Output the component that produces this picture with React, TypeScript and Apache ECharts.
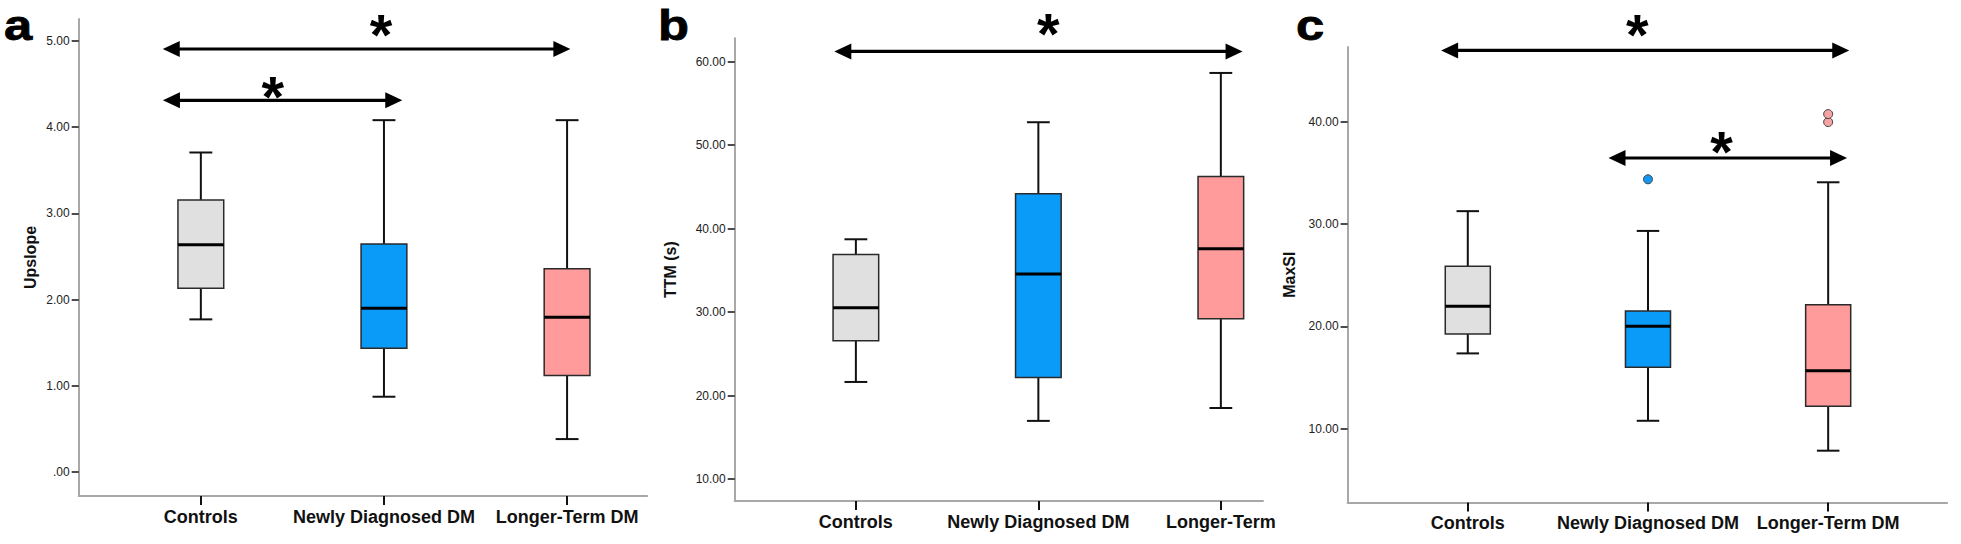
import React, { useEffect, useRef } from 'react';
import * as echarts from 'echarts';

// ---------- data ----------
const categoriesA = ['Controls', 'Newly Diagnosed DM', 'Longer-Term DM'];
const categoriesB = ['Controls', 'Newly Diagnosed DM', 'Longer-Term'];
const categoriesC = ['Controls', 'Newly Diagnosed DM', 'Longer-Term DM'];

// [min, Q1, median, Q3, max] per group
const upslopeBoxes = [
  [1.77, 2.13, 2.635, 3.155, 3.705],
  [0.873, 1.436, 1.9, 2.645, 4.08],
  [0.382, 1.118, 1.794, 2.357, 4.08],
];
const ttmBoxes = [
  [21.64, 26.58, 30.53, 36.89, 38.72],
  [16.98, 22.18, 34.56, 44.16, 52.73],
  [18.52, 29.2, 37.6, 46.24, 58.63],
];
const maxSIBoxes = [
  [17.36, 19.25, 21.97, 25.86, 31.25],
  [10.78, 16.0, 20.0, 21.49, 29.32],
  [7.86, 12.2, 15.66, 22.1, 34.07],
];
// [group index, value]
const maxSIOutliers = [
  [1, 34.36],
  [2, 39.95],
  [2, 40.73],
];

const upslopeTicks = [0, 1, 2, 3, 4, 5];
const ttmTicks = [10, 20, 30, 40, 50, 60];
const maxSITicks = [10, 20, 30, 40];

// significance arrows: [from (group units), to, y value]
const upslopeArrows = [
  [-0.208, 2.018, 4.905],
  [-0.207, 1.1, 4.31],
];
const ttmArrows = [[-0.118, 2.119, 61.21]];
const maxSIArrows = [
  [-0.148, 2.117, 46.95],
  [0.781, 2.105, 36.44],
];
// asterisk centres: [x (group units), y value]
const upslopeStars = [
  [0.984, 5.214],
  [0.393, 4.49],
];
const ttmStars = [[1.054, 64.79]];
const maxSIStars = [
  [0.94, 49.66],
  [1.408, 38.3],
];

const panelLetters = ['a', 'b', 'c'];

// ---------- style ----------
const FONT = '"Liberation Sans", Arial, sans-serif';
const fills = ['#e0e0e0', '#0a9af7', '#ff9b9b'];
const outlierFills = ['#e0e0e0', '#1597f0', '#f5a3a3'];
const AXIS_GRAY = '#a8a8a8';

type Panel = {
  cats: string[];
  boxes: number[][];
  ticks: number[];
  arrows: number[][];
  stars: number[][];
  name: string;
  nameGap: number;
  xMin: number;
  xMax: number;
  yMin: number;
  yMax: number;
  grid: { left: number; top: number; width: number; height: number };
};

const panels: Panel[] = [
  {
    cats: categoriesA,
    boxes: upslopeBoxes,
    ticks: upslopeTicks,
    arrows: upslopeArrows,
    stars: upslopeStars,
    name: 'Upslope',
    nameGap: 40,
    xMin: -0.667,
    xMax: 2.437,
    yMin: -0.278,
    yMax: 5.253,
    grid: { left: 78.7, top: 19, width: 568.4, height: 477 },
  },
  {
    cats: categoriesB,
    boxes: ttmBoxes,
    ticks: ttmTicks,
    arrows: ttmArrows,
    stars: ttmStars,
    name: 'TTM (s)',
    nameGap: 56,
    xMin: -0.664,
    xMax: 2.231,
    yMin: 7.39,
    yMax: 62.79,
    grid: { left: 734.7, top: 38.2, width: 528.3, height: 462.8 },
  },
  {
    cats: categoriesC,
    boxes: maxSIBoxes,
    ticks: maxSITicks,
    arrows: maxSIArrows,
    stars: maxSIStars,
    name: 'MaxSI',
    nameGap: 50,
    xMin: -0.667,
    xMax: 2.66,
    yMin: 2.81,
    yMax: 47.29,
    grid: { left: 1347.6, top: 46.9, width: 599.5, height: 455.5 },
  },
];

const fmtTick = (v: number) => (v === 0 ? '.00' : v.toFixed(2));

function boxRender(params: any, api: any) {
  const x = api.value(0);
  const mn = api.value(1);
  const q1 = api.value(2);
  const md = api.value(3);
  const q3 = api.value(4);
  const mx = api.value(5);
  const hw = 0.125;
  const cw = 0.0625;
  const tl = api.coord([x - hw, q3]);
  const br = api.coord([x + hw, q1]);
  const cx = api.coord([x, md])[0];
  const yMax = api.coord([x, mx])[1];
  const yMin = api.coord([x, mn])[1];
  const yMed = api.coord([x, md])[1];
  const capL = api.coord([x - cw, md])[0];
  const capR = api.coord([x + cw, md])[0];
  const whisker = { stroke: '#111', lineWidth: 2 };
  return {
    type: 'group',
    children: [
      { type: 'line', shape: { x1: cx, y1: yMax, x2: cx, y2: tl[1] }, style: whisker },
      { type: 'line', shape: { x1: cx, y1: br[1], x2: cx, y2: yMin }, style: whisker },
      { type: 'line', shape: { x1: capL, y1: yMax, x2: capR, y2: yMax }, style: whisker },
      { type: 'line', shape: { x1: capL, y1: yMin, x2: capR, y2: yMin }, style: whisker },
      {
        type: 'rect',
        shape: { x: tl[0], y: tl[1], width: br[0] - tl[0], height: br[1] - tl[1] },
        style: { fill: fills[Math.round(x)], stroke: '#2a2a2a', lineWidth: 1.5 },
      },
      {
        type: 'line',
        shape: { x1: tl[0], y1: yMed, x2: br[0], y2: yMed },
        style: { stroke: '#000', lineWidth: 3 },
      },
    ],
  };
}

function arrowRender(params: any, api: any) {
  const p1 = api.coord([api.value(0), api.value(2)]);
  const p2 = api.coord([api.value(1), api.value(2)]);
  const hl = 17;
  const hh = 8;
  const y = p1[1];
  return {
    type: 'group',
    children: [
      {
        type: 'line',
        shape: { x1: p1[0] + hl - 2, y1: y, x2: p2[0] - hl + 2, y2: y },
        style: { stroke: '#000', lineWidth: 3.2 },
      },
      {
        type: 'polygon',
        shape: { points: [[p1[0], y], [p1[0] + hl, y - hh], [p1[0] + hl, y + hh]] },
        style: { fill: '#000' },
      },
      {
        type: 'polygon',
        shape: { points: [[p2[0], y], [p2[0] - hl, y - hh], [p2[0] - hl, y + hh]] },
        style: { fill: '#000' },
      },
    ],
  };
}

const STAR_FS = 58;
function starRender(params: any, api: any) {
  const p = api.coord([api.value(0), api.value(1)]);
  return {
    type: 'text',
    x: p[0],
    y: p[1] + STAR_FS * 0.21,
    style: {
      text: '*',
      fontSize: STAR_FS,
      fontWeight: 'bold',
      fontFamily: FONT,
      fill: '#000',
      align: 'center',
      verticalAlign: 'middle',
    },
  };
}

function buildOption() {
  const grid: any[] = [];
  const xAxis: any[] = [];
  const yAxis: any[] = [];
  const series: any[] = [];
  panels.forEach((p, i) => {
    grid.push({ ...p.grid, containLabel: false, outerBoundsMode: 'none' });
    xAxis.push({
      type: 'value',
      gridIndex: i,
      min: p.xMin,
      max: p.xMax,
      axisLine: { show: true, onZero: false, lineStyle: { color: AXIS_GRAY, width: 2 } },
      axisTick: { show: true, customValues: [0, 1, 2], length: 9, lineStyle: { color: '#111', width: 2 } },
      axisLabel: {
        customValues: [0, 1, 2],
        formatter: (v: number) => p.cats[Math.round(v)] ?? '',
        fontSize: 18,
        fontWeight: 'bold',
        fontFamily: FONT,
        color: '#111',
        margin: 12,
      },
      splitLine: { show: false },
    });
    yAxis.push({
      type: 'value',
      gridIndex: i,
      min: p.yMin,
      max: p.yMax,
      name: p.name,
      nameLocation: 'middle',
      nameGap: p.nameGap,
      nameTextStyle: { fontSize: 16, fontWeight: 'bold', fontFamily: FONT, color: '#111' },
      axisLine: { show: true, onZero: false, lineStyle: { color: AXIS_GRAY, width: 2 } },
      axisTick: { show: true, customValues: p.ticks, length: 7, lineStyle: { color: '#111', width: 1.5 } },
      axisLabel: {
        customValues: p.ticks,
        formatter: fmtTick,
        fontSize: 12,
        fontFamily: FONT,
        color: '#222',
        margin: 9,
      },
      splitLine: { show: false },
    });
    series.push({
      type: 'custom',
      xAxisIndex: i,
      yAxisIndex: i,
      renderItem: boxRender,
      clip: false,
      data: p.boxes.map((b, k) => [k, ...b]),
      z: 2,
    });
    series.push({
      type: 'custom',
      xAxisIndex: i,
      yAxisIndex: i,
      renderItem: arrowRender,
      clip: false,
      data: p.arrows,
      z: 3,
    });
    series.push({
      type: 'custom',
      xAxisIndex: i,
      yAxisIndex: i,
      renderItem: starRender,
      clip: false,
      data: p.stars,
      z: 3,
    });
  });
  series.push({
    type: 'scatter',
    xAxisIndex: 2,
    yAxisIndex: 2,
    symbol: 'circle',
    symbolSize: 9,
    data: maxSIOutliers,
    itemStyle: {
      color: (params: any) => outlierFills[params.value[0]],
      borderColor: '#444',
      borderWidth: 1,
      opacity: 1,
    },
    z: 4,
  });

  const letterX = [4, 658, 1296];
  const graphic = panelLetters.map((t, i) => ({
    type: 'text',
    x: letterX[i],
    y: 3,
    scaleX: 1.18,
    style: {
      text: t,
      fontSize: 43,
      fontWeight: 'bold',
      fontFamily: FONT,
      fill: '#000',
      stroke: '#000',
      lineWidth: 0.8,
      verticalAlign: 'top',
    },
  }));

  return {
    animation: false,
    backgroundColor: '#ffffff',
    grid,
    xAxis,
    yAxis,
    series,
    graphic,
  };
}

export default function App() {
  const ref = useRef<HTMLDivElement>(null);
  useEffect(() => {
    if (!ref.current) return;
    const chart = echarts.init(ref.current, undefined, { renderer: 'svg' });
    chart.setOption(buildOption() as any);
    return () => chart.dispose();
  }, []);
  return (
    <div
      ref={ref}
      style={{ position: 'fixed', left: 0, top: 0, width: 1961, height: 544, background: '#fff' }}
    />
  );
}
